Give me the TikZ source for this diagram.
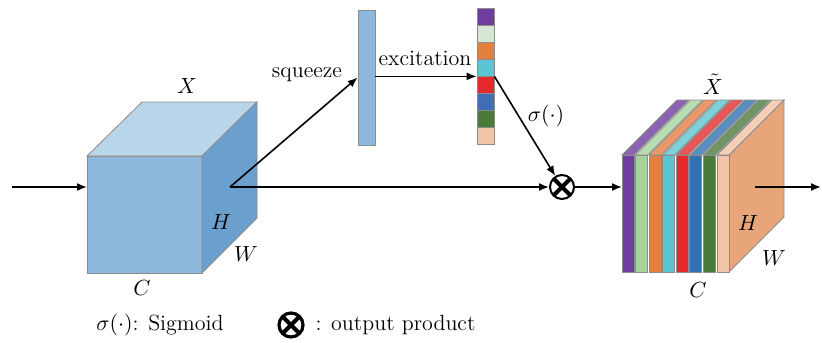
\documentclass[tikz,border=0pt]{standalone}
\usetikzlibrary{arrows.meta}
\definecolor{cubefront}{HTML}{8DB8DB}
\definecolor{cubetop}{HTML}{B9D5EA}
\definecolor{cubeside}{HTML}{6B9FCD}
\definecolor{cpurple}{HTML}{6E3D9E}
\definecolor{cpale}{HTML}{D5E6D2}
\definecolor{clgreen}{HTML}{A8D29C}
\definecolor{corange}{HTML}{E3803F}
\definecolor{ccyan}{HTML}{5BC6D1}
\definecolor{cred}{HTML}{E52A2E}
\definecolor{cblue}{HTML}{416DB3}
\definecolor{cdblue}{HTML}{2F73B0}
\definecolor{cgreen}{HTML}{4B7A3B}
\definecolor{cpeach}{HTML}{F2C4A8}
\definecolor{cside}{HTML}{E9A57A}
\begin{document}
\begin{tikzpicture}[x=0.5pt,y=-0.5pt,font=\fontsize{11}{13}\selectfont]
		\tikzstyle{edge} = [draw,thick,-{Latex[length=5pt,width=4pt]},black]
		\tikzstyle{face} = [draw=black!45,line width=0.4pt]
		\tikzstyle{cell} = [face,minimum width=8.5pt,minimum height=8.5pt,inner sep=0pt]
		\tikzstyle{prodsym} = [circle,draw,line width=1pt,minimum size=12pt,inner sep=0pt,
			path picture={\draw[line width=2pt] (path picture bounding box.north west) -- (path picture bounding box.south east)
				(path picture bounding box.north east) -- (path picture bounding box.south west);}]
		\useasboundingbox (0,0) rectangle (822,342);
		
		% input feature map
		\filldraw[face,fill=cubefront] (87,156) rectangle (202,273);
		\filldraw[face,fill=cubetop] (87,156) -- (142,102) -- (257,102) -- (202,156) -- cycle;
		\filldraw[face,fill=cubeside] (202,156) -- (257,102) -- (257,218) -- (202,273) -- cycle;
		\node (X) at (187,86) {$X$};
		\node (H) at (221,222) {$H$};
		\node (W) at (246,254) {$W$};
		\node (C) at (142,288) {$C$};
		
		\coordinate (in) at (12,187);
		\coordinate (cubein) at (87,187);
		\coordinate (split) at (230,187);
		
		% squeeze and excitation
		\node[face,fill=cubefront,minimum width=8.5pt,minimum height=67.5pt,inner sep=0pt] (sq) at (366.5,77.5) {};
		\foreach \col [count=\i] in {cpurple,cpale,corange,ccyan,cred,cblue,cgreen,cpeach}
			\node[cell,fill=\col] (c\i) at (485.5,{8+17*(\i-0.5)}) {};
		\node[prodsym] (prod) at (562,187) {};
		
		\draw[edge] (in) -- (cubein);
		\draw[edge] (split) -- (sq.west);
		\draw[edge] (sq.east |- c4.south west) -- (c4.south west);
		\draw[edge] (c4.south east) -- (prod);
		\draw[edge] (split) -- (prod);
		
		\node (sqz) at (307,75) {squeeze};
		\node (exc) at (425,58) {excitation};
		\node (sig) at (546,116) {$\sigma(\cdot)$};
		
		% rescaled feature map
		\filldraw[face,fill=cside] (729,155) -- (784,100) -- (784,217) -- (729,272) -- cycle;
		\foreach \col [count=\i] in {cpurple,clgreen,corange,ccyan,cred,cdblue,cgreen,cpeach} {
			\pgfmathsetmacro{\xa}{622+13.57*(\i-1)}
			\filldraw[face,fill=\col!80!white] (\xa,155) -- (\xa+55,100) -- (\xa+67,100) -- (\xa+12,155) -- cycle;
			\filldraw[face,fill=\col] (\xa,155) rectangle (\xa+12,272);
		}
		\node[inner sep=0pt] (Xt) at (713,84) {$\tilde{X}$};
		\node (H2) at (748,223) {$H$};
		\node (W2) at (774,258) {$W$};
		\node (C2) at (698,290) {$C$};
		
		\coordinate (stackin) at (622,187);
		\coordinate (out0) at (755,187);
		\coordinate (out) at (821,187);
		\draw[edge] (prod) -- (stackin);
		\draw[edge] (out0) -- (out);
		
		% legend
		\node (legsig) at (160,325) {$\sigma(\cdot)$: Sigmoid};
		\node[prodsym,line width=1.6pt,minimum size=12pt] (legprod) at (291,325) {};
		\node[right=2pt] (legtxt) at (legprod.east) {: output product};
\end{tikzpicture}
\end{document}
